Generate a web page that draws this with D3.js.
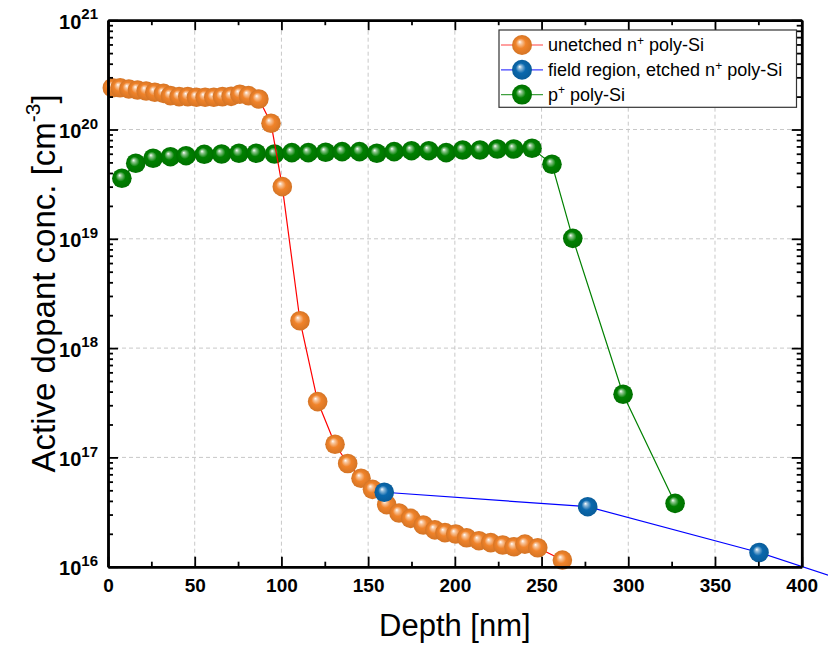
<!DOCTYPE html>
<html>
<head>
<meta charset="utf-8">
<script src="https://cdn.jsdelivr.net/npm/d3@7"></script>
<style>
  body { margin: 0; background: #fff; }
  svg { display: block; font-family: Arial, "Liberation Sans", sans-serif; }
</style>
</head>
<body>
<div id="chart"></div>
<script>
// depth [nm] and active dopant concentration [cm^-3]
const nDepth = [2.5, 7, 12, 17, 22, 27, 32, 36, 41, 46, 51, 56, 61, 66, 71, 76, 81, 87,
  94, 100.5, 110.7, 120.9, 130.9, 138.2, 145.9, 152.5, 160.7, 167.8, 174.5, 181.8,
  188.5, 194.3, 200.5, 206.8, 213.9, 220.7, 227.6, 234.1, 240.4, 247.8, 262];
const nConc = [2.41e20, 2.41e20, 2.35e20, 2.30e20, 2.25e20, 2.19e20, 2.14e20, 2.04e20,
  2.0e20, 2.0e20, 1.97e20, 1.97e20, 1.97e20, 2.0e20, 2.01e20, 2.10e20, 2.04e20, 1.90e20,
  1.14e20, 3.0e19, 1.78e18, 3.24e17, 1.32e17, 8.8e16, 6.44e16, 5.1e16, 3.7e16, 3.1e16,
  2.77e16, 2.41e16, 2.17e16, 2.05e16, 1.99e16, 1.84e16, 1.73e16, 1.66e16, 1.58e16,
  1.52e16, 1.61e16, 1.49e16, 1.15e16];

const fieldDepth = [159.3, 276.6, 375.4, 480];
const fieldConc = [4.8e16, 3.54e16, 1.35e16, 3.85e15];

const pDepth = [8, 16, 26, 36, 45, 55.5, 65.5, 75.5, 85.5, 96, 106, 115.5, 125.5, 135,
  145, 155, 165, 175, 185, 195, 204.5, 214.5, 224.5, 234, 244.5, 256, 268, 297, 327];
const pConc = [3.58e19, 4.91e19, 5.46e19, 5.64e19, 5.76e19, 5.93e19, 5.97e19, 6.06e19,
  6.06e19, 5.97e19, 6.14e19, 6.14e19, 6.19e19, 6.27e19, 6.27e19, 6.06e19, 6.27e19,
  6.40e19, 6.40e19, 6.14e19, 6.49e19, 6.49e19, 6.63e19, 6.63e19, 6.73e19, 4.81e19,
  1.01e19, 3.78e17, 3.8e16];

const xTicks = [0, 50, 100, 150, 200, 250, 300, 350, 400];
const xMinor = [25, 75, 125, 175, 225, 275, 325, 375];
const yExps = [16, 17, 18, 19, 20, 21];

const seriesNames = ["unetched n", "field region, etched n", "p"];

// chart sizes
const width = 828;
const height = 646;
const margin = { top: 20.2, right: 26.3, bottom: 79.3, left: 108 };

const svg = d3.select("#chart").append("svg")
  .attr("width", width)
  .attr("height", height);

const x = d3.scaleLinear().domain([0, 400]).range([margin.left, width - margin.right]);
const y = d3.scaleLog().domain([1e16, 1e21]).range([height - margin.bottom, margin.top]);

const x0 = x.range()[0], x1 = x.range()[1];
const y0 = y.range()[0], y1 = y.range()[1];

// sphere gradients
const defs = svg.append("defs");
function sphere(id, color) {
  const g = defs.append("radialGradient").attr("id", id)
    .attr("cx", "50%").attr("cy", "50%").attr("r", "50%")
    .attr("fx", "38%").attr("fy", "34%");
  g.append("stop").attr("offset", "0%").attr("stop-color", "#ffffff");
  g.append("stop").attr("offset", "18%").attr("stop-color", d3.interpolateRgb(color, "#fff")(0.55));
  g.append("stop").attr("offset", "50%").attr("stop-color", color);
  g.append("stop").attr("offset", "100%").attr("stop-color", d3.color(color).darker(0.35));
}
sphere("ballOrange", "#f0832a");
sphere("ballBlue", "#0a68ad");
sphere("ballGreen", "#008000");

// grid lines
const grid = svg.append("g").attr("stroke", "#c8c8c8").attr("stroke-width", 1)
  .attr("stroke-dasharray", "4,3");
grid.selectAll(".vg").data(xTicks.slice(1, -1)).enter().append("line")
  .attr("x1", d => x(d)).attr("x2", d => x(d)).attr("y1", y0).attr("y2", y1);
grid.selectAll(".hg").data(yExps.slice(1, -1)).enter().append("line")
  .attr("x1", x0).attr("x2", x1)
  .attr("y1", d => y(Math.pow(10, d))).attr("y2", d => y(Math.pow(10, d)));

// series
const line = d3.line().x(d => x(d[0])).y(d => y(d[1]));
function drawSeries(depths, concs, lineColor, ball) {
  const pts = depths.map((d, i) => [d, concs[i]]);
  svg.append("path").datum(pts)
    .attr("fill", "none").attr("stroke", lineColor).attr("stroke-width", 1.2)
    .attr("d", line);
  svg.append("g").selectAll("circle").data(pts).enter().append("circle")
    .attr("cx", d => x(d[0])).attr("cy", d => y(d[1])).attr("r", 9.8)
    .attr("fill", `url(#${ball})`);
}
drawSeries(pDepth, pConc, "#008000", "ballGreen");
drawSeries(nDepth, nConc, "#ff0000", "ballOrange");
drawSeries(fieldDepth, fieldConc, "#0000ff", "ballBlue");

// minor log ticks
const yMinor = [];
yExps.slice(0, -1).forEach(e => { for (let k = 2; k <= 9; k++) yMinor.push(k * Math.pow(10, e)); });
const yMajor = yExps.map(e => Math.pow(10, e));

function styleAxis(g) {
  g.selectAll("path.domain").attr("stroke", "#000").attr("stroke-width", 2.5);
  g.selectAll(".tick line").attr("stroke", "#000").attr("stroke-width", 1.8);
}

// bottom
svg.append("g").attr("transform", `translate(0,${y0})`)
  .call(d3.axisBottom(x).tickValues(xTicks).tickSize(-10).tickSizeOuter(0).tickPadding(12))
  .call(styleAxis)
  .selectAll("text").attr("font-size", 19).attr("font-weight", "bold")
  .attr("font-family", "Arial, 'Liberation Sans', sans-serif").attr("fill", "#000");
svg.append("g").attr("transform", `translate(0,${y0})`)
  .call(d3.axisBottom(x).tickValues(xMinor).tickSize(-5).tickSizeOuter(0).tickFormat(""))
  .call(styleAxis);
// top
svg.append("g").attr("transform", `translate(0,${y1})`)
  .call(d3.axisTop(x).tickValues(xTicks).tickSize(-10).tickSizeOuter(0).tickFormat(""))
  .call(styleAxis);
svg.append("g").attr("transform", `translate(0,${y1})`)
  .call(d3.axisTop(x).tickValues(xMinor).tickSize(-5).tickSizeOuter(0).tickFormat(""))
  .call(styleAxis);

// left
const left = svg.append("g").attr("transform", `translate(${x0},0)`)
  .call(d3.axisLeft(y).tickValues(yMajor).tickSize(-10).tickSizeOuter(0).tickPadding(10))
  .call(styleAxis);
left.selectAll(".tick text").each(function (d) {
  const t = d3.select(this).text("")
    .attr("font-size", 20).attr("font-weight", "bold").attr("fill", "#000")
    .attr("font-family", "Arial, 'Liberation Sans', sans-serif")
    .attr("dy", "0.4em");
  t.append("tspan").text("10");
  t.append("tspan").text(Math.round(Math.log10(d))).attr("font-size", 15).attr("dy", "-0.62em");
});
svg.append("g").attr("transform", `translate(${x0},0)`)
  .call(d3.axisLeft(y).tickValues(yMinor).tickSize(-5).tickSizeOuter(0).tickFormat(""))
  .call(styleAxis);
// right
svg.append("g").attr("transform", `translate(${x1},0)`)
  .call(d3.axisRight(y).tickValues(yMajor).tickSize(-10).tickSizeOuter(0).tickFormat(""))
  .call(styleAxis);
svg.append("g").attr("transform", `translate(${x1},0)`)
  .call(d3.axisRight(y).tickValues(yMinor).tickSize(-5).tickSizeOuter(0).tickFormat(""))
  .call(styleAxis);

// axis titles
svg.append("text")
  .attr("x", (x0 + x1) / 2).attr("y", 636)
  .attr("text-anchor", "middle").attr("font-size", 31).attr("fill", "#000")
  .text("Depth [nm]");

const yTitle = svg.append("text")
  .attr("transform", `translate(55,${(y0 + y1) / 2 - 10}) rotate(-90)`)
  .attr("text-anchor", "middle").attr("font-size", 33).attr("fill", "#000");
yTitle.append("tspan").text("Active dopant conc. [cm");
yTitle.append("tspan").text("-3").attr("font-size", 21).attr("dy", "-0.7em");
yTitle.append("tspan").text("]").attr("dy", "0.45em");

// legend
const legend = svg.append("g");
legend.append("rect")
  .attr("x", 499).attr("y", 30).attr("width", 297.5).attr("height", 77.3)
  .attr("fill", "#fff").attr("stroke", "#333").attr("stroke-width", 1.2);
const legendItems = [
  { name: seriesNames[0], sup: "+", tail: " poly-Si", line: "#ff0000", ball: "ballOrange" },
  { name: seriesNames[1], sup: "+", tail: " poly-Si", line: "#0000ff", ball: "ballBlue" },
  { name: seriesNames[2], sup: "+", tail: " poly-Si", line: "#008000", ball: "ballGreen" }
];
legendItems.forEach((item, i) => {
  const ly = 45 + i * 24.8;
  legend.append("line").attr("x1", 501).attr("x2", 543).attr("y1", ly).attr("y2", ly)
    .attr("stroke", item.line).attr("stroke-width", 1.2).attr("stroke-opacity", 0.75);
  legend.append("circle").attr("cx", 522).attr("cy", ly).attr("r", 10)
    .attr("fill", `url(#${item.ball})`);
  const t = legend.append("text").attr("x", 548).attr("y", ly + 6.3)
    .attr("font-size", 18).attr("fill", "#000");
  t.append("tspan").text(item.name);
  t.append("tspan").text(item.sup).attr("font-size", 12).attr("dy", "-0.55em");
  t.append("tspan").text(item.tail).attr("dy", "0.37em");
});
</script>
</body>
</html>
